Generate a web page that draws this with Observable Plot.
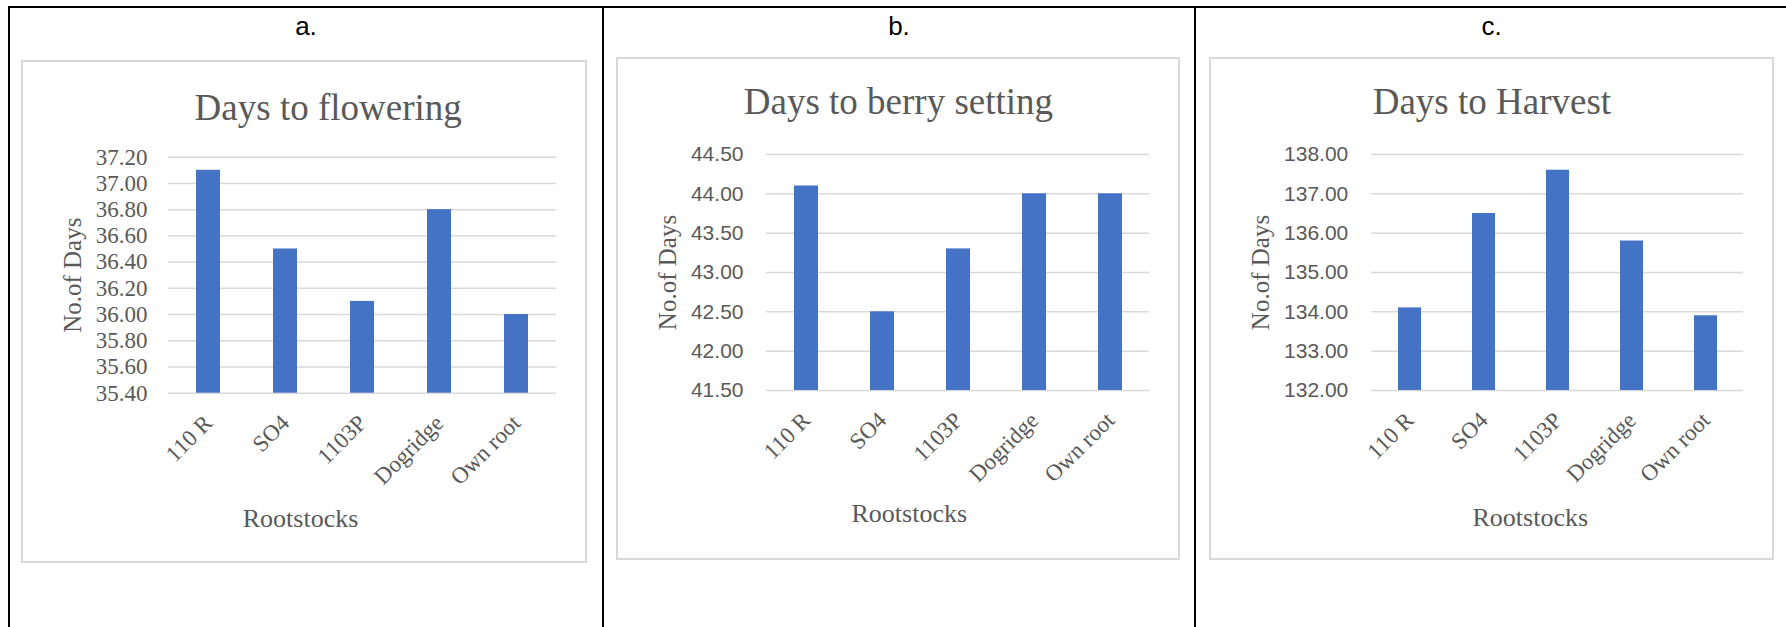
<!DOCTYPE html>
<html><head><meta charset="utf-8">
<script src="https://cdn.jsdelivr.net/npm/d3@7"></script>
<script src="https://cdn.jsdelivr.net/npm/@observablehq/plot@0.6"></script>
<style>
html,body{margin:0;padding:0;background:#fff;}
body{width:1786px;height:627px;overflow:hidden;position:relative;}
.line{position:absolute;background:#000;}
.plabel{position:absolute;top:13px;font:26px/26px "Liberation Sans",Arial,sans-serif;color:#000;text-align:center;}
.box{position:absolute;box-sizing:border-box;border:2px solid #d9d9d9;pointer-events:none;}
.chart{position:absolute;}
</style></head><body>
<script>
// ---- data ----
const rootstocks = ["110 R", "SO4", "1103P", "Dogridge", "Own root"];
const floweringDays = [37.10, 36.50, 36.10, 36.80, 36.00];
const berrySettingDays = [44.10, 42.50, 43.30, 44.00, 44.00];
const harvestDays = [134.10, 136.50, 137.60, 135.80, 133.90];
const floweringTicks = [35.4, 35.6, 35.8, 36.0, 36.2, 36.4, 36.6, 36.8, 37.0, 37.2];
const berryTicks = [41.5, 42.0, 42.5, 43.0, 43.5, 44.0, 44.5];
const harvestTicks = [132, 133, 134, 135, 136, 137, 138];
const panelLabels = ["a.", "b.", "c."];
const chartTitles = ["Days to flowering", "Days to berry setting", "Days to Harvest"];
const yAxisLabel = "No.of Days";
const xAxisLabel = "Rootstocks";

// ---- layout (pixels) ----
const SERIF = '"Liberation Serif", "Times New Roman", serif';
const SANS = '"Liberation Sans", Arial, sans-serif';
const TEXT = "#595959";
const BAR = "#4472c4";
const GRID = "#d9d9d9";

const cells = [[9, 603], [603, 1195], [1195, 1788]];
const layouts = [
  {box: [21, 60, 566, 503], plot: [168, 156.7, 556, 392.7], title: [327.7, 119], ylab: 72.5, xlab: [300, 526.7], tickFont: SERIF, tickSize: 23, tickGap: 21},
  {box: [616, 57, 564, 503], plot: [766, 154, 1149, 390], title: [897.9, 113], ylab: 667, xlab: [908.8, 521], tickFont: SANS, tickSize: 21, tickGap: 23},
  {box: [1209, 57, 565, 503], plot: [1371.3, 154, 1743, 390], title: [1491.4, 113], ylab: 1260.5, xlab: [1529.8, 525], tickFont: SANS, tickSize: 21, tickGap: 23.5}
];
const series = [floweringDays, berrySettingDays, harvestDays];
const tickSets = [floweringTicks, berryTicks, harvestTicks];

function addDiv(cls, style, text) {
  const d = document.createElement("div");
  d.className = cls;
  Object.assign(d.style, style);
  if (text != null) d.textContent = text;
  document.body.appendChild(d);
  return d;
}

// table lines
addDiv("line", {left: "8px", top: "6px", width: "1778px", height: "2px"});
addDiv("line", {left: "8px", top: "6px", width: "2px", height: "621px"});
addDiv("line", {left: "602px", top: "6px", width: "2px", height: "621px"});
addDiv("line", {left: "1194px", top: "6px", width: "2px", height: "621px"});

panelLabels.forEach((lab, i) => {
  addDiv("plabel", {left: cells[i][0] + "px", width: (cells[i][1] - cells[i][0]) + "px"}, lab);
});

series.forEach((values, i) => {
  const L = layouts[i];
  const [bx, by, bw, bh] = L.box;
  const [px0, py0, px1, py1] = L.plot;
  const ticks = tickSets[i];
  const lo = d3.min(ticks), hi = d3.max(ticks);
  const table = rootstocks.map((cat, j) => ({cat, value: values[j]}));

  const chart = Plot.plot({
    width: bw,
    height: bh,
    marginLeft: px0 - bx,
    marginRight: bx + bw - px1,
    marginTop: py0 - by,
    marginBottom: by + bh - py1,
    style: {background: "transparent", overflow: "visible", color: TEXT},
    x: {type: "band", domain: rootstocks, paddingInner: 0.69, paddingOuter: 0.345, axis: null},
    y: {domain: [lo, hi], axis: null},
    marks: [
      Plot.ruleY(ticks, {y: d => d, stroke: GRID, strokeWidth: 1.5}),
      Plot.barY(table, {x: "cat", y1: () => lo, y2: "value", fill: BAR}),
      Plot.text(ticks, {y: d => d, text: d => d.toFixed(2), frameAnchor: "left", dx: -L.tickGap,
        textAnchor: "end", lineAnchor: "middle", fill: TEXT, fontSize: L.tickSize, fontFamily: L.tickFont}),
      Plot.text(rootstocks, {x: d => d, text: d => d, frameAnchor: "bottom", dy: 26, rotate: -45,
        textAnchor: "end", lineAnchor: "middle", fill: TEXT, fontSize: 23, fontFamily: SERIF}),
      Plot.text([chartTitles[i]], {text: d => d, frameAnchor: "top-left", dx: L.title[0] - px0, dy: L.title[1] - py0,
        textAnchor: "middle", lineAnchor: "bottom", fill: TEXT, fontSize: 37, fontFamily: SERIF}),
      Plot.text([yAxisLabel], {text: d => d, frameAnchor: "left", dx: L.ylab - px0, rotate: -90,
        textAnchor: "middle", lineAnchor: "middle", fill: TEXT, fontSize: 25, fontFamily: SERIF}),
      Plot.text([xAxisLabel], {text: d => d, frameAnchor: "bottom-left", dx: L.xlab[0] - px0, dy: L.xlab[1] - py1,
        textAnchor: "middle", lineAnchor: "bottom", fill: TEXT, fontSize: 26, fontFamily: SERIF})
    ]
  });
  const holder = addDiv("chart", {left: bx + "px", top: by + "px", width: bw + "px", height: bh + "px"});
  holder.appendChild(chart);
  addDiv("box", {left: bx + "px", top: by + "px", width: bw + "px", height: bh + "px"});
});
</script>
</body></html>
